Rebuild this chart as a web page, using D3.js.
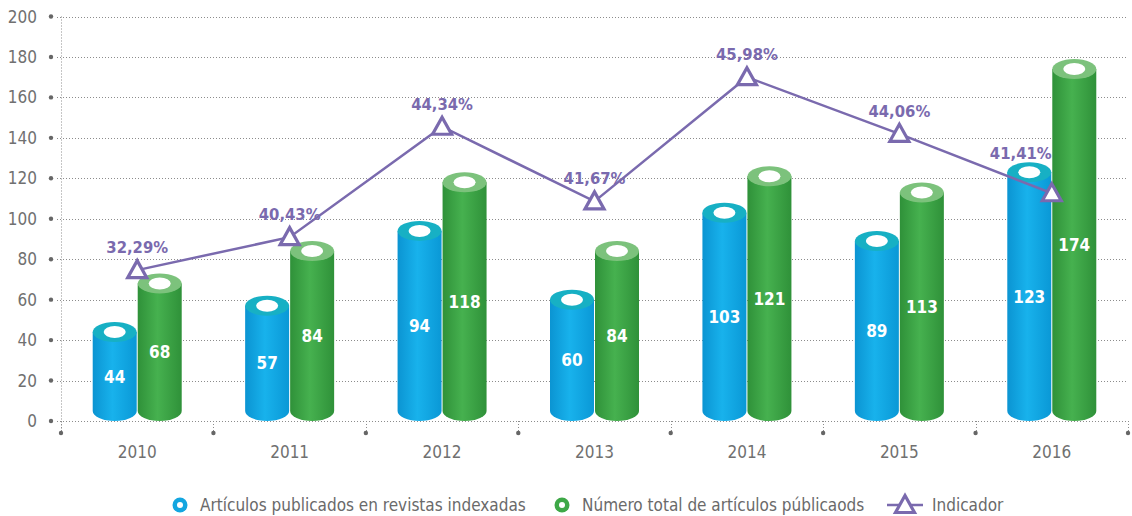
<!DOCTYPE html>
<html lang="es">
<head>
<meta charset="utf-8">
<title>Artículos publicados</title>
<script src="https://d3js.org/d3.v7.min.js"></script>
<style>
  body { margin: 0; background: #fff; }
  svg text { font-family: "Liberation Sans Narrow", "DejaVu Sans Condensed", "Roboto", sans-serif; }
  .grid line { stroke: #8c8c8c; stroke-dasharray: 1,2; }
  .ylab, .xlab { fill: #707070; font-size: 17px; }
  .inbar { fill: #fff; font-size: 17px; font-weight: bold; text-anchor: middle; }
  .ind { fill: #7a6aae; font-size: 16.5px; font-weight: bold; text-anchor: middle; }
  .leg { fill: #6a6a6a; font-size: 17px; }
</style>
</head>
<body>
<svg id="chart" width="1132" height="516"></svg>
<script>
  // données
  const years = ["2010", "2011", "2012", "2013", "2014", "2015", "2016"];
  const indexadas = [44, 57, 94, 60, 103, 89, 123];
  const totales = [68, 84, 118, 84, 121, 113, 174];
  const indicadorLabels = ["32,29%", "40,43%", "44,34%", "41,67%", "45,98%", "44,06%", "41,41%"];
  // position of the indicator marks, read against the left axis
  const indicadorPos = [74.6, 90.9, 145.5, 108.6, 170, 142, 112.6];
  const yTicks = [0, 20, 40, 60, 80, 100, 120, 140, 160, 180, 200];
  const seriesNames = ["Artículos publicados en revistas indexadas", "Número total de artículos públicaods", "Indicador"];

  const purple = "#7a6aae";
  const svg = d3.select("#chart");

  const x = d3.scaleBand().domain(years).range([61, 1128]).padding(0);
  const y = d3.scaleLinear().domain([0, 200]).range([421, 16.5]);
  const cx = d => x(d) + x.bandwidth() / 2;

  // dégradés
  const defs = svg.append("defs");
  function grad(id, stops) {
    const g = defs.append("linearGradient").attr("id", id)
      .attr("x1", "0%").attr("x2", "100%").attr("y1", "0%").attr("y2", "0%");
    stops.forEach(s => g.append("stop").attr("offset", s[0]).attr("stop-color", s[1]));
  }
  grad("gBlue", [["0%", "#0b94d2"], ["45%", "#18b2ec"], ["100%", "#0a98d6"]]);
  grad("gGreen", [["0%", "#2f9139"], ["45%", "#46b14f"], ["100%", "#2f9139"]]);

  // grille
  const grid = svg.append("g").attr("class", "grid");
  grid.selectAll("line.h").data(yTicks).enter().append("line")
    .attr("x1", 57).attr("x2", 1128)
    .attr("y1", d => Math.round(y(d)) + 0.5).attr("y2", d => Math.round(y(d)) + 0.5);
  grid.append("line").attr("x1", 61.5).attr("x2", 61.5).attr("y1", y(200)).attr("y2", 432);
  const xEdges = years.map(d => x(d)).concat([x.range()[1]]);
  grid.selectAll("line.v").data(xEdges).enter().append("line")
    .attr("x1", d => Math.round(d) + 0.5).attr("x2", d => Math.round(d) + 0.5)
    .attr("y1", y(0)).attr("y2", 432);

  svg.selectAll("circle.ydot").data(yTicks).enter().append("circle")
    .attr("cx", 51).attr("cy", d => y(d)).attr("r", 2.2).attr("fill", "#666");
  svg.selectAll("circle.xdot").data(xEdges).enter().append("circle")
    .attr("cx", d => d).attr("cy", 433).attr("r", 2.2).attr("fill", "#666");

  svg.selectAll("text.ylab").data(yTicks).enter().append("text")
    .attr("class", "ylab").attr("x", 37).attr("y", d => y(d) + 6)
    .attr("text-anchor", "end").text(d => d);
  svg.selectAll("text.xlab").data(years).enter().append("text")
    .attr("class", "xlab").attr("x", cx).attr("y", 458)
    .attr("text-anchor", "middle").text(d => d);

  // cylindres
  const rx = 22, ry = 10;
  function cylinder(g, c, v, body, top, label) {
    const yt = y(v), yb = y(0) - ry;
    g.append("path")
      .attr("d", `M${c - rx},${yt} L${c - rx},${yb} A${rx},${ry} 0 0 0 ${c + rx},${yb} L${c + rx},${yt} Z`)
      .attr("fill", body);
    g.append("ellipse").attr("cx", c).attr("cy", yt).attr("rx", rx).attr("ry", ry).attr("fill", top);
    g.append("ellipse").attr("cx", c).attr("cy", yt).attr("rx", 11).attr("ry", 6).attr("fill", "#fff");
    g.append("text").attr("class", "inbar").attr("x", c).attr("y", (yt + y(0)) / 2 + 6).text(label);
  }
  const bars = svg.append("g");
  years.forEach((yr, i) => {
    cylinder(bars, cx(yr) - 22.5, indexadas[i], "url(#gBlue)", "#17b0c4", indexadas[i]);
    cylinder(bars, cx(yr) + 22.5, totales[i], "url(#gGreen)", "#7cc27c", totales[i]);
  });

  // indicateur
  const tri = "M0,-9.5 L9.5,7.5 L-9.5,7.5 Z";
  svg.append("path")
    .attr("d", d3.line()(years.map((yr, i) => [cx(yr), y(indicadorPos[i])])))
    .attr("fill", "none").attr("stroke", purple).attr("stroke-width", 2.5);
  svg.selectAll("path.tri").data(years).enter().append("path")
    .attr("d", tri)
    .attr("transform", (d, i) => `translate(${cx(d)},${y(indicadorPos[i])})`)
    .attr("fill", "#fff").attr("stroke", purple).attr("stroke-width", 3.2)
    .attr("stroke-linejoin", "miter");
  // the last label sits up and to the left, clear of the tall bar
  const last = years.length - 1;
  svg.selectAll("text.ind").data(years).enter().append("text")
    .attr("class", "ind")
    .attr("x", (d, i) => cx(d) + (i === last ? -31 : 0))
    .attr("y", (d, i) => y(indicadorPos[i]) - (i === last ? 34 : 17))
    .text((d, i) => indicadorLabels[i]);

  // légende
  const leg = svg.append("g");
  const ly = 505;
  [["#13a6e0", 180, 200], ["#3ea847", 562, 582]].forEach((s, i) => {
    leg.append("circle").attr("cx", s[1]).attr("cy", ly).attr("r", 7.5).attr("fill", s[0]);
    leg.append("circle").attr("cx", s[1]).attr("cy", ly).attr("r", 3).attr("fill", "#fff");
    leg.append("text").attr("class", "leg").attr("x", s[2]).attr("y", ly + 6).text(seriesNames[i]);
  });
  leg.append("line").attr("x1", 887).attr("x2", 923).attr("y1", ly).attr("y2", ly)
    .attr("stroke", purple).attr("stroke-width", 2.5);
  leg.append("path").attr("d", tri).attr("transform", `translate(905,${ly})`)
    .attr("fill", "#fff").attr("stroke", purple).attr("stroke-width", 3.2);
  leg.append("text").attr("class", "leg").attr("x", 932).attr("y", ly + 6).text(seriesNames[2]);
</script>
</body>
</html>
